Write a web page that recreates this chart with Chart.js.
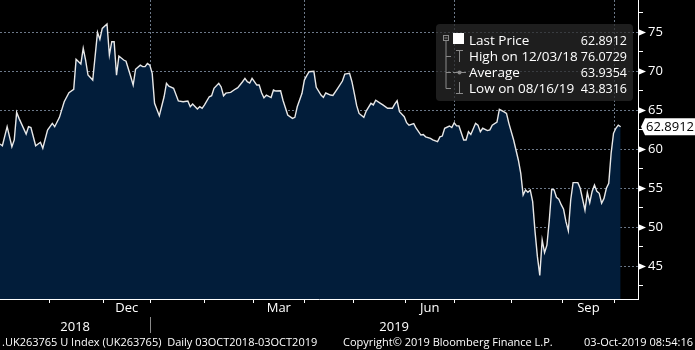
<!doctype html>
<html>
<head>
<meta charset="utf-8">
<title>UK263765 U Index</title>
<script src="https://cdn.jsdelivr.net/npm/chart.js@4"></script>
<style>
html, body { margin: 0; background: #000; }
</style>
</head>
<body>
<canvas id="chart" width="695" height="350"></canvas>
<script>
// trading-day index counted from 03 Oct 2018, and the price
let days = [0, 1, 3, 5, 6, 7, 8, 11, 12, 13, 15, 17, 18, 20, 22, 23, 25, 27, 29, 31,
    32, 34, 35, 36, 37, 39, 41, 42, 43, 45, 46, 47, 48, 49, 50, 52, 53, 55, 56, 57,
    59, 60, 61, 62, 63, 64, 65, 67, 69, 70, 71, 73, 75, 77, 79, 80, 81, 83, 84, 85,
    86, 88, 89, 90, 92, 93, 94, 95, 97, 99, 100, 102, 103, 104, 105, 106, 108, 109, 110, 111,
    112, 114, 115, 116, 118, 119, 121, 123, 124, 125, 127, 128, 129, 130, 132, 133, 135, 136, 137, 139,
    140, 142, 144, 145, 147, 148, 149, 150, 151, 153, 154, 156, 157, 158, 160, 161, 163, 165, 166, 167,
    168, 170, 171, 172, 174, 175, 177, 178, 179, 181, 182, 184, 185, 186, 187, 189, 190, 191, 192, 193,
    195, 196, 197, 198, 200, 201, 202, 203, 205, 206, 207, 209, 210, 212, 213, 214, 216, 218, 219, 220,
    221, 222, 223, 224, 225, 226, 227, 228, 229, 230, 231, 232, 233, 234, 235, 236, 237, 238, 239, 240,
    241, 243, 244, 246, 247, 248, 249, 250, 251, 252, 253, 254, 255, 256, 257, 258, 259, 260, 261]
let prices = [60.68, 60.46, 62.9, 60.33, 61.2, 64.74, 63.97, 61.96, 62.9, 62.8, 60.46, 60.9, 60.13, 62.47, 63.33, 62.9, 64.1, 66.1, 67.26, 67.69,
    71.54, 70.94, 72.95, 71.45, 69.53, 68.88, 75.0, 74.1, 75.5, 76.07, 72.1, 73.8, 73.8, 69.5, 71.96, 71.45, 71.3, 69.3, 68.24, 70.26,
    70.8, 70.6, 70.6, 71.0, 70.8, 69.74, 65.9, 64.3, 66.74, 68.46, 68.1, 67.82, 66.2, 66.1, 66.2, 65.46, 65.8, 65.17, 65.46, 65.25,
    65.7, 66.74, 66.87, 67.82, 68.46, 68.0, 66.87, 67.2, 67.3, 67.73, 67.9, 68.67, 69.1, 68.67, 68.5, 69.1, 68.24, 68.24, 67.26, 66.6,
    66.94, 66.64, 67.6, 67.47, 67.5, 66.3, 64.4, 63.97, 64.1, 65.46, 67.18, 68.88, 69.44, 69.95, 70.0, 67.95, 66.96, 66.66, 67.22, 66.96,
    66.9, 67.82, 68.76, 69.65, 69.74, 68.67, 67.18, 65.6, 64.6, 64.1, 64.9, 65.9, 65.7, 66.3, 65.9, 65.7, 65.26, 65.26, 65.8, 66.23,
    64.82, 64.18, 63.41, 63.1, 63.3, 62.7, 61.83, 61.9, 61.6, 61.4, 61.2, 60.97, 61.6, 61.7, 62.7, 62.99, 62.8, 63.41, 63.0, 63.0,
    61.19, 61.19, 62.26, 61.9, 63.33, 63.1, 62.26, 62.7, 62.4, 62.5, 63.1, 63.5, 65.13, 64.8, 64.6, 63.33, 61.19, 58.6, 56.92, 54.14,
    54.78, 54.5, 54.78, 53.28, 49.44, 46.23, 43.83, 48.37, 46.74, 47.7, 50.94, 54.87, 54.8, 53.85, 53.6, 52.9, 52.31, 50.72, 49.56, 53.5,
    55.72, 55.72, 55.0, 52.2, 54.44, 53.15, 54.6, 55.42, 54.6, 54.36, 53.08, 53.7, 55.0, 55.64, 59.49, 62.05, 62.7, 63.1, 62.8912]

// month boundaries on the same day axis (Nov 2018 .. Oct 2019)
let monthNames = ['Nov', 'Dec', 'Jan', 'Feb', 'Mar', 'Apr', 'May', 'Jun', 'Jul', 'Aug', 'Sep', 'Oct']
let monthStarts = [20.7, 43.4, 63.2, 85.9, 106.5, 128.0, 148.6, 170.4, 191.0, 214.9, 236.6, 258.3]
let shownMonths = ['Dec', 'Mar', 'Jun', 'Sep']
let quarterStarts = [63.2, 128.0, 191.0, 258.3]
let yearLabels = ['2018', '2019']
let yearBreak = 63.2
let xMax = 268.3
let yMin = 40.8
let yMax = 79.15
let yMajor = [45, 50, 55, 60, 65, 70, 75]

let legendLabels = ['Last Price', 'High on 12/03/18', 'Average', 'Low on 08/16/19']
let legendValues = ['62.8912', '76.0729', '63.9354', '43.8316']
let lastLabel = '62.8912'
let footer = ['.UK263765 U Index (UK263765)  Daily 03OCT2018-03OCT2019',
    'Copyright\u00a9 2019 Bloomberg Finance L.P.', '03-Oct-2019 08:54:16']

let xTicks = monthStarts.map(v => ({value: v, label: ''}))
monthNames.forEach(function (m, i) {
    if (shownMonths.includes(m)) xTicks.push({value: (monthStarts[i] + monthStarts[i + 1]) / 2, label: m})
})
xTicks.sort((a, b) => a.value - b.value)

let yearTicks = [
    {value: yearBreak / 2, label: yearLabels[0]},
    {value: yearBreak, label: ''},
    {value: (yearBreak + xMax) / 2, label: yearLabels[1]}
]

let yTickValues = []
for (let v = 42.5; v <= 77.5; v += 2.5) yTickValues.push(v)

let gridColor = 'rgba(135,150,170,0.8)'

function noPad(s) {
    s.paddingLeft = s.paddingRight = s.paddingTop = s.paddingBottom = 0
}

let decor = {
    id: 'decor',
    afterDraw(chart) {
        let ctx = chart.ctx
        let y = chart.scales.y
        let right = chart.chartArea.right
        ctx.save()

        // arrow marks on the major y ticks
        ctx.fillStyle = '#fff'
        for (let v of yMajor) {
            let py = Math.round(y.getPixelForValue(v)) + 0.5
            ctx.beginPath()
            ctx.moveTo(right, py - 3.5)
            ctx.lineTo(right + 8, py)
            ctx.lineTo(right, py + 3.5)
            ctx.closePath()
            ctx.fill()
        }

        // last price tag
        let py = y.getPixelForValue(prices[prices.length - 1])
        ctx.beginPath()
        ctx.moveTo(right + 3, py)
        ctx.lineTo(right + 7, py - 8.5)
        ctx.lineTo(695, py - 8.5)
        ctx.lineTo(695, py + 8.5)
        ctx.lineTo(right + 7, py + 8.5)
        ctx.closePath()
        ctx.fill()
        ctx.fillStyle = '#000'
        ctx.font = '13px "Open Sans"'
        ctx.textBaseline = 'middle'
        ctx.textAlign = 'left'
        ctx.fillText(lastLabel, right + 8, py + 0.5)

        // legend box
        ctx.fillStyle = 'rgba(40,40,40,0.75)'
        ctx.beginPath()
        ctx.roundRect(436, 24, 197, 77, 4)
        ctx.fill()
        ctx.strokeStyle = '#8a8a8a'
        ctx.lineWidth = 1
        ctx.strokeRect(443.5, 35.5, 5, 5)
        ctx.beginPath()
        ctx.moveTo(444.5, 38); ctx.lineTo(447.5, 38)
        ctx.moveTo(446, 41); ctx.lineTo(446, 88.5)
        for (let yy of [56.5, 72.5, 88.5]) { ctx.moveTo(446, yy); ctx.lineTo(451, yy) }
        ctx.moveTo(456, 50.5); ctx.lineTo(463, 50.5)
        ctx.moveTo(459.5, 50.5); ctx.lineTo(459.5, 62)
        ctx.moveTo(453, 72.5); ctx.lineTo(466, 72.5)
        ctx.moveTo(459.5, 82); ctx.lineTo(459.5, 93)
        ctx.moveTo(456, 93.5); ctx.lineTo(463, 93.5)
        ctx.stroke()
        ctx.fillStyle = '#8a8a8a'
        ctx.beginPath()
        ctx.arc(459.5, 72.5, 2, 0, Math.PI * 2)
        ctx.fill()
        ctx.fillStyle = '#fff'
        ctx.fillRect(453, 33, 11, 11)
        ctx.textBaseline = 'alphabetic'
        legendLabels.forEach(function (label, i) {
            ctx.font = '13.5px "Open Sans"'
            ctx.textAlign = 'left'
            ctx.fillText(label, 469, 45 + i * 16)
            ctx.font = '12.5px "Open Sans"'
            ctx.textAlign = 'right'
            ctx.fillText(legendValues[i], 627, 45 + i * 16)
        })

        // footer
        ctx.font = '11px "Open Sans"'
        ctx.textAlign = 'left'
        ctx.fillText(footer[0], 2, 346)
        ctx.fillText(footer[1], 343, 346)
        ctx.textAlign = 'right'
        ctx.fillText(footer[2], 693, 346)
        ctx.restore()
    }
}

Chart.defaults.font.family = '"Open Sans", sans-serif'
Chart.defaults.color = '#fff'

new Chart(document.getElementById('chart'), {
    type: 'line',
    data: {
        datasets: [{
            data: days.map((d, i) => ({x: d, y: prices[i]})),
            borderColor: '#e8e8e8',
            borderWidth: 1.4,
            backgroundColor: '#021d3a',
            fill: 'start',
            pointRadius: 0,
            tension: 0
        }]
    },
    options: {
        responsive: false,
        animation: false,
        devicePixelRatio: 1,
        layout: {padding: {top: 0, left: 0, right: 0, bottom: 16}},
        plugins: {legend: {display: false}, tooltip: {enabled: false}},
        scales: {
            x: {
                type: 'linear', position: 'bottom', min: 0, max: xMax, weight: 0, z: 1,
                afterBuildTicks: s => { s.ticks = xTicks.map(t => ({value: t.value})) },
                afterFit: s => { s.height = 18; noPad(s) },
                ticks: {autoSkip: false, maxRotation: 0, padding: -3, font: {size: 13}, callback: (v, i) => xTicks[i].label},
                grid: {
                    color: c => quarterStarts.includes(c.tick && c.tick.value) ? gridColor : 'transparent',
                    tickColor: c => xTicks[c.index] && xTicks[c.index].label === '' ? '#fff' : 'transparent',
                    tickLength: 4
                },
                border: {color: '#fff', dash: [2, 2]}
            },
            yr: {
                type: 'linear', position: 'bottom', min: 0, max: xMax, weight: 1,
                afterBuildTicks: s => { s.ticks = yearTicks.map(t => ({value: t.value})) },
                afterFit: s => { s.height = 17; noPad(s) },
                ticks: {autoSkip: false, maxRotation: 0, padding: -14, font: {size: 13}, callback: (v, i) => yearTicks[i].label},
                grid: {
                    drawOnChartArea: false, tickLength: 16,
                    tickColor: c => yearTicks[c.index] && yearTicks[c.index].label === '' ? '#8a8a8a' : 'transparent'
                },
                border: {display: false}
            },
            y: {
                position: 'right', min: yMin, max: yMax, z: 1,
                afterBuildTicks: s => { s.ticks = yTickValues.map(v => ({value: v})) },
                afterFit: s => { s.width = 57; noPad(s) },
                ticks: {autoSkip: false, padding: 5, font: {size: 13}, callback: v => yMajor.includes(v) ? String(v) : ''},
                grid: {
                    color: c => yMajor.includes(c.tick && c.tick.value) ? gridColor : 'transparent',
                    tickColor: '#fff',
                    tickLength: 5
                },
                border: {color: '#fff', dash: [2, 2]}
            }
        }
    },
    plugins: [decor]
})
</script>
</body>
</html>
